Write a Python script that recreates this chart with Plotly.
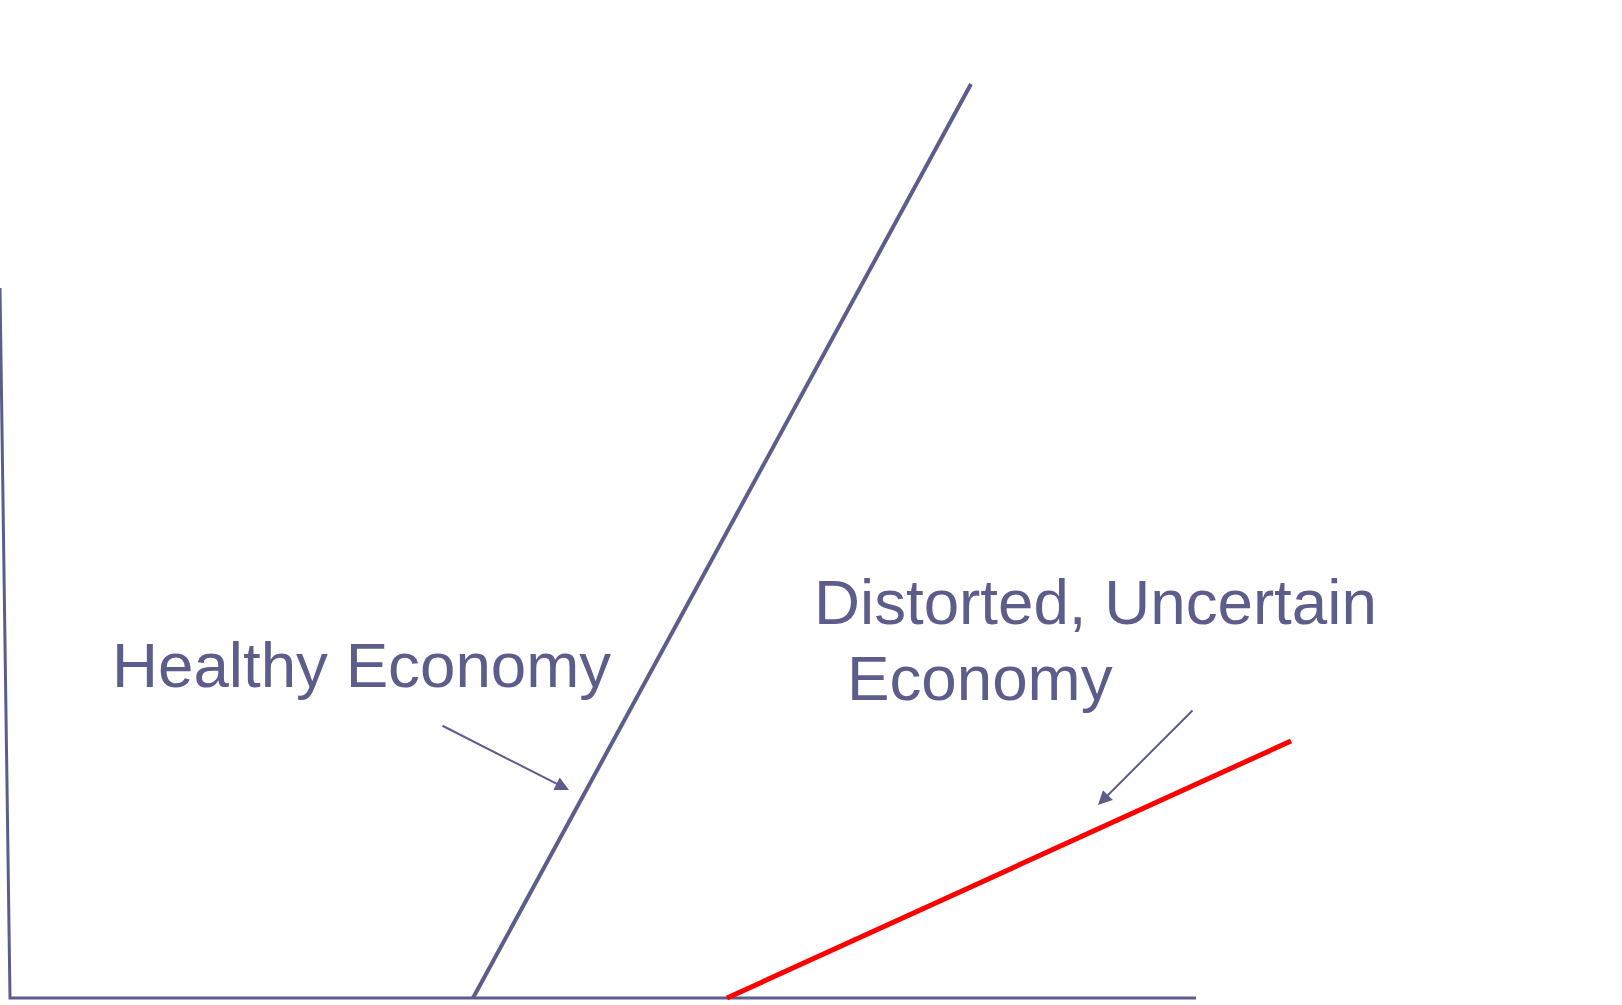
import plotly.graph_objects as go

# Diagram data (canvas units, y grows downward)
axis_x = [0, 10, 1196]
axis_y = [288, 998, 998]

healthy_x = [473, 971]
healthy_y = [998, 84]

distorted_x = [727, 1291]
distorted_y = [998, 741]

# arrows: tail -> tip
arrow_tail_x = [441, 1194]
arrow_tail_y = [725, 709]
arrow_tip_x = [569, 1098]
arrow_tip_y = [790, 805]

labels = ["Healthy Economy", "Distorted, Uncertain", "Economy"]
label_x = [110, 812, 845]
label_y = [664, 601, 677]

INK = "#5d5d8c"
RED = "#ff0000"

fig = go.Figure()
fig.add_trace(go.Scatter(x=axis_x, y=axis_y, mode="lines",
                         line=dict(color=INK, width=3), hoverinfo="skip"))
fig.add_trace(go.Scatter(x=healthy_x, y=healthy_y, mode="lines",
                         line=dict(color=INK, width=4), hoverinfo="skip"))
fig.add_trace(go.Scatter(x=distorted_x, y=distorted_y, mode="lines",
                         line=dict(color=RED, width=5), hoverinfo="skip"))

annotations = []
for tx, ty, hx, hy in zip(arrow_tail_x, arrow_tail_y, arrow_tip_x, arrow_tip_y):
    annotations.append(dict(x=hx, y=hy, ax=tx, ay=ty, xref="x", yref="y",
                            axref="x", ayref="y", text="", showarrow=True,
                            arrowhead=2, arrowsize=1.4, arrowwidth=2,
                            arrowcolor=INK, standoff=0))
for t, lx, ly in zip(labels, label_x, label_y):
    annotations.append(dict(x=lx, y=ly, xref="x", yref="y", text=t,
                            showarrow=False, xanchor="left", yanchor="middle",
                            font=dict(family="Liberation Sans, Arial", size=63.7, color=INK)))

fig.update_layout(
    width=1622, height=1005,
    margin=dict(l=0, r=0, t=0, b=0),
    paper_bgcolor="white", plot_bgcolor="white",
    showlegend=False,
    xaxis=dict(range=[0, 1622], visible=False, fixedrange=True),
    yaxis=dict(range=[1005, 0], visible=False, fixedrange=True),
    annotations=annotations,
)

fig.write_html("out.html", config={"displayModeBar": False},
               post_script="document.body.style.margin='0';document.body.style.overflow='hidden';")
